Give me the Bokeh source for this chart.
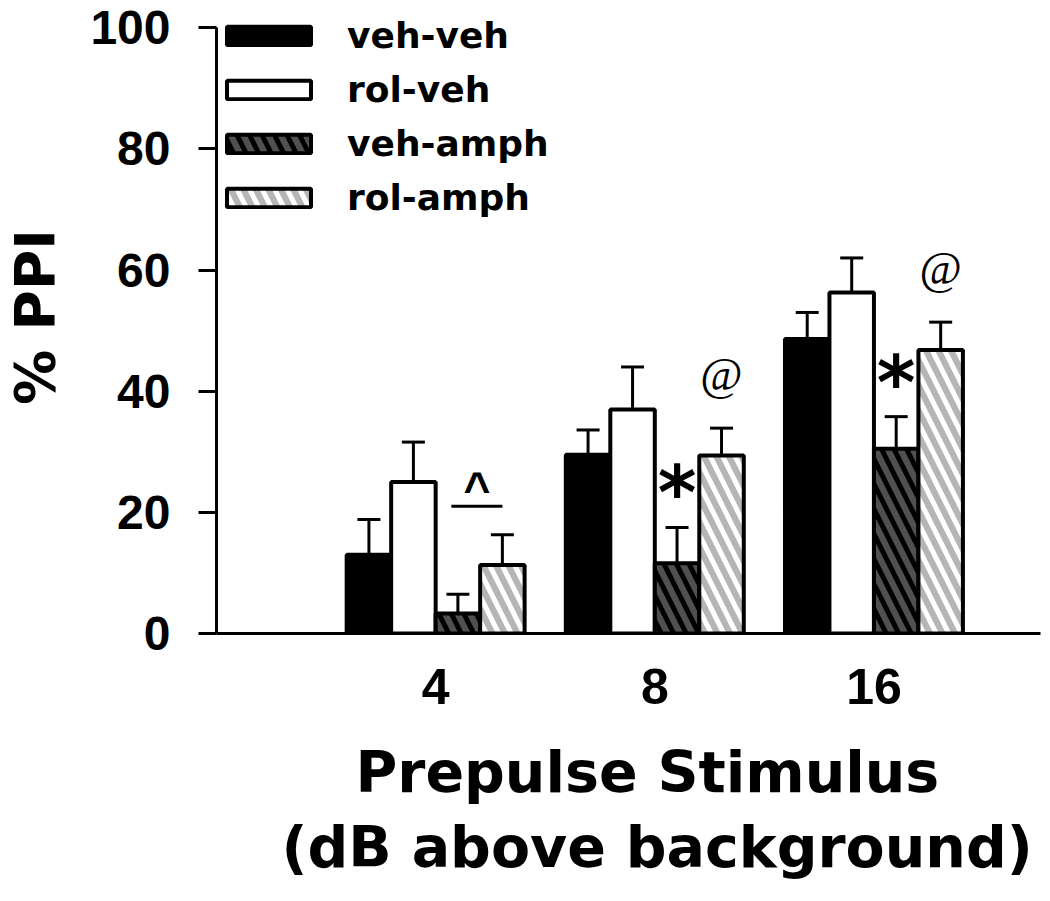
from bokeh.plotting import figure
from bokeh.models import (ColumnDataSource, Range1d, FixedTicker, Whisker, TeeHead,
                          Legend, LegendItem, Title)
from bokeh.core.properties import value
from bokeh.embed import file_html
from bokeh.resources import INLINE

# ---- data ----
categories = ["4", "8", "16"]
groups = ["veh-veh", "rol-veh", "veh-amph", "rol-amph"]
veh_veh = [13.0, 29.5, 48.6]
veh_veh_err = [5.8, 4.1, 4.4]
rol_veh = [25.0, 37.0, 56.3]
rol_veh_err = [6.6, 7.0, 5.7]
veh_amph = [3.3, 11.6, 30.5]
veh_amph_err = [3.2, 5.9, 5.3]
rol_amph = [11.3, 29.4, 46.8]
rol_amph_err = [5.0, 4.5, 4.6]
star_groups = [1, 2]        # "*" above veh-amph
at_groups = [1, 2]          # "@" above rol-amph
caret_group = [0]           # "^" between veh-amph and rol-amph
caret_level = [21.0]
yticks = [0, 20, 40, 60, 80, 100]
x_title = ["Prepulse Stimulus", "(dB above background)"]
y_title = "% PPI"

series = [veh_veh, rol_veh, veh_amph, rol_amph]
errors = [veh_veh_err, rol_veh_err, veh_amph_err, rol_amph_err]

# ---- styles ----
W = 0.203
offsets = [-1.5, -0.5, 0.5, 1.5]
fills = ["black", "white", "#505050", "#b5b5b5"]
hatches = [None, None, "\\", "\\"]
hatch_colors = [None, None, "black", "white"]
BOLD_SANS = "Liberation Sans"
WIDE_BOLD = "DejaVu Sans"

xs = [i + 1 for i in range(len(categories))]

p = figure(width=1048, height=900, x_range=Range1d(0, 3.76), y_range=Range1d(0, 104.5),
           output_backend="svg", toolbar_location=None,
           min_border_left=216, min_border_right=8, min_border_top=0, min_border_bottom=267)
p.outline_line_color = None
p.xgrid.visible = False
p.ygrid.visible = False
p.background_fill_color = "white"

renderers = []
sources = []
for k in range(4):
    x = [c + offsets[k] * W for c in xs]
    src = ColumnDataSource(dict(x=x, top=series[k], lower=series[k],
                                upper=[v + e for v, e in zip(series[k], errors[k])]))
    sources.append(src)
    w = Whisker(source=src, base="x", upper="upper", lower="lower",
                line_color="black", line_width=3, lower_head=None,
                upper_head=TeeHead(size=23, line_color="black", line_width=3))
    p.add_layout(w)
    kw = dict(x="x", top="top", width=W, source=src, fill_color=fills[k],
              line_color="black", line_width=4)
    if hatches[k]:
        kw.update(hatch_pattern=hatches[k], hatch_color=hatch_colors[k],
                  hatch_scale=25, hatch_weight=5)
    r = p.vbar(**kw)
    renderers.append(r)

# significance markers
sx = [sources[2].data["x"][g] for g in star_groups]
sy = [sources[2].data["upper"][g] for g in star_groups]
p.text(x=sx, y=sy, text=["*"] * len(sx), text_align="center", text_baseline="alphabetic",
       y_offset=-34, text_font=value(WIDE_BOLD), text_font_style="bold",
       text_font_size="74px", text_color="black")

ax = [sources[3].data["x"][g] for g in at_groups]
ay = [sources[3].data["upper"][g] for g in at_groups]
p.text(x=ax, y=ay, text=["@"] * len(ax), text_align="center", text_baseline="middle",
       y_offset=-54, text_font=value("Liberation Serif"), text_font_size="46px",
       text_color="black")

cx0 = [sources[2].data["x"][g] - 0.03 for g in caret_group]
cx1 = [sources[3].data["x"][g] for g in caret_group]
p.segment(x0=cx0, y0=caret_level, x1=cx1, y1=caret_level, line_color="black", line_width=3)
p.text(x=[(a + b) / 2 for a, b in zip(cx0, cx1)], y=caret_level, text=["^"],
       text_align="center", text_baseline="alphabetic", y_offset=-17,
       text_font=value(BOLD_SANS), text_font_style="bold", text_font_size="46px",
       text_color="black")

# axes
p.yaxis.ticker = FixedTicker(ticks=yticks)
p.yaxis.bounds = (yticks[0], yticks[-1])
p.yaxis.major_tick_out = 18
p.yaxis.major_tick_in = 0
p.yaxis.minor_tick_out = 0
p.yaxis.minor_tick_in = 0
p.yaxis.axis_line_width = 3
p.yaxis.major_tick_line_width = 3
p.yaxis.major_label_text_font = BOLD_SANS
p.yaxis.major_label_text_font_style = "bold"
p.yaxis.major_label_text_font_size = "48px"
p.yaxis.major_label_text_color = "black"
p.yaxis.major_label_standoff = 28
p.yaxis.axis_label = y_title
p.yaxis.axis_label_text_font = WIDE_BOLD
p.yaxis.axis_label_text_font_style = "bold"
p.yaxis.axis_label_text_font_size = "55px"
p.yaxis.axis_label_text_color = "black"
p.yaxis.axis_label_standoff = 20

p.xaxis.ticker = FixedTicker(ticks=xs)
p.xaxis.major_label_overrides = {x: c for x, c in zip(xs, categories)}
p.xaxis.major_tick_out = 0
p.xaxis.major_tick_in = 0
p.xaxis.minor_tick_out = 0
p.xaxis.minor_tick_in = 0
p.xaxis.axis_line_width = 3
p.xaxis.major_label_text_font = BOLD_SANS
p.xaxis.major_label_text_font_style = "bold"
p.xaxis.major_label_text_font_size = "50px"
p.xaxis.major_label_text_color = "black"
p.xaxis.major_label_standoff = 35

# two-line x-axis title, stacked below the axis
for txt, off, so in zip(x_title, [139, 65], [61, -47]):
    kw = dict(text=txt, align="left", offset=off, vertical_align="bottom",
              text_font=WIDE_BOLD, text_font_style="bold",
              text_font_size="57px", text_color="black")
    try:
        t = Title(standoff=so, **kw)
    except Exception:
        t = Title(standoff=0, **kw)
    p.add_layout(t, "below")

legend = Legend(items=[LegendItem(label=g, renderers=[r]) for g, r in zip(groups, renderers)],
                location=(0, 415), margin=0, padding=0, spacing=13,
                glyph_width=105, glyph_height=23, label_standoff=26,
                border_line_color=None, background_fill_alpha=0,
                label_text_font=WIDE_BOLD, label_text_font_style="bold",
                label_text_font_size="36px", label_text_color="black")
p.add_layout(legend)

open("out.html", "w").write(file_html(p, INLINE))
